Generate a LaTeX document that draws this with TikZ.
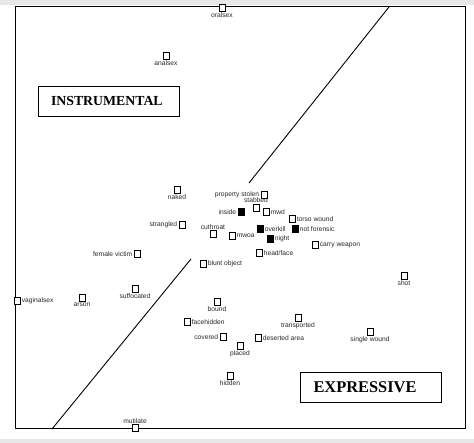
\documentclass[tikz,border=0pt]{standalone}
\usepackage{fontspec}
\setmainfont{Liberation Serif}
\setsansfont{Liberation Sans}
\usetikzlibrary{positioning}

\begin{document}
\begin{tikzpicture}[x=1pt,y=-1pt,
  op/.style={draw,line width=0.8pt,fill=white,minimum size=6.2pt,inner sep=0pt},
  fp/.style={op,fill=black},
  lbl/.style={font=\sffamily\fontsize{6.7}{7}\selectfont,inner sep=0.6pt,text=black!85},
  every label/.style={lbl},
  label distance=0.5pt,
  catbox/.style={draw,line width=0.8pt,text width=115pt,inner xsep=13pt,
    minimum height=30pt,align=left,font=\bfseries}]

\useasboundingbox (0,0) rectangle (474,443);
\fill[gray!18] (0,0) rectangle (474,5);
\fill[gray!18] (0,439) rectangle (474,443);

% frame
\draw[line width=1pt] (15,7) rectangle (465,429);

% dividing line
\coordinate (d1) at (389,7);
\coordinate (d2) at (249,183);
\coordinate (d3) at (191,259);
\coordinate (d4) at (52,429);
\draw[line width=0.9pt] (d1) -- (d2);
\draw[line width=0.9pt] (d3) -- (d4);

\node[catbox,font=\bfseries\fontsize{13.8}{15}\selectfont] (instr) at (108.5,101.5) {INSTRUMENTAL};
\node[catbox,font=\bfseries\fontsize{16.4}{18}\selectfont] (expr) at (371,387) {EXPRESSIVE};

% points
\node[op,label=below:oralsex] (oralsex) at (222,8) {};
\node[op,label=below:analsex] (analsex) at (166,56) {};
\node[op,label=below:naked] (naked) at (177,190) {};
\node[op,label=left:property stolen] (propstolen) at (264,195) {};
\node[op,label={[yshift=0.5pt]above:stabbed}] (stabbed) at (256,208) {};
\node[fp,label=left:inside] (inside) at (241,212) {};
\node[op,label=right:mwd] (mwd) at (266,212) {};
\node[op,label=right:torso wound] (torso) at (292,219) {};
\node[op,label=left:strangled] (strangled) at (182,225) {};
\node[op,label=above:cuthroat] (cuthroat) at (213,234) {};
\node[op,label=right:mwoa] (mwoa) at (232,236) {};
\node[fp,label=right:overkill] (overkill) at (260,229) {};
\node[fp,label=right:not forensic] (notfor) at (295,229) {};
\node[fp,label=right:night] (night) at (270,239) {};
\node[op,label=right:carry weapon] (carry) at (315,245) {};
\node[op,label=right:head/face] (headface) at (259,253) {};
\node[op,label=right:blunt object] (blunt) at (203,264) {};
\node[op,label=left:female victim] (female) at (137,254) {};
\node[op,label=right:vaginalsex] (vaginal) at (17,301) {};
\node[op,label=below:arson] (arson) at (82,298) {};
\node[op,label=below:suffocated] (suffoc) at (135,289) {};
\node[op,label=below:shot] (shot) at (404,276) {};
\node[op,label=below:bound] (bound) at (217,302) {};
\node[op,label=right:facehidden] (facehid) at (187,322) {};
\node[op,label=below:transported] (transp) at (298,318) {};
\node[op,label=left:covered] (covered) at (223,337) {};
\node[op,label=right:deserted area] (deserted) at (258,338) {};
\node[op,label=below:single wound] (single) at (370,332) {};
\node[op,label=below:placed] (placed) at (240,346) {};
\node[op,label=below:hidden] (hidden) at (230,376) {};
\node[op,label=above:mutilate] (mutilate) at (135,428) {};

\end{tikzpicture}
\end{document}
